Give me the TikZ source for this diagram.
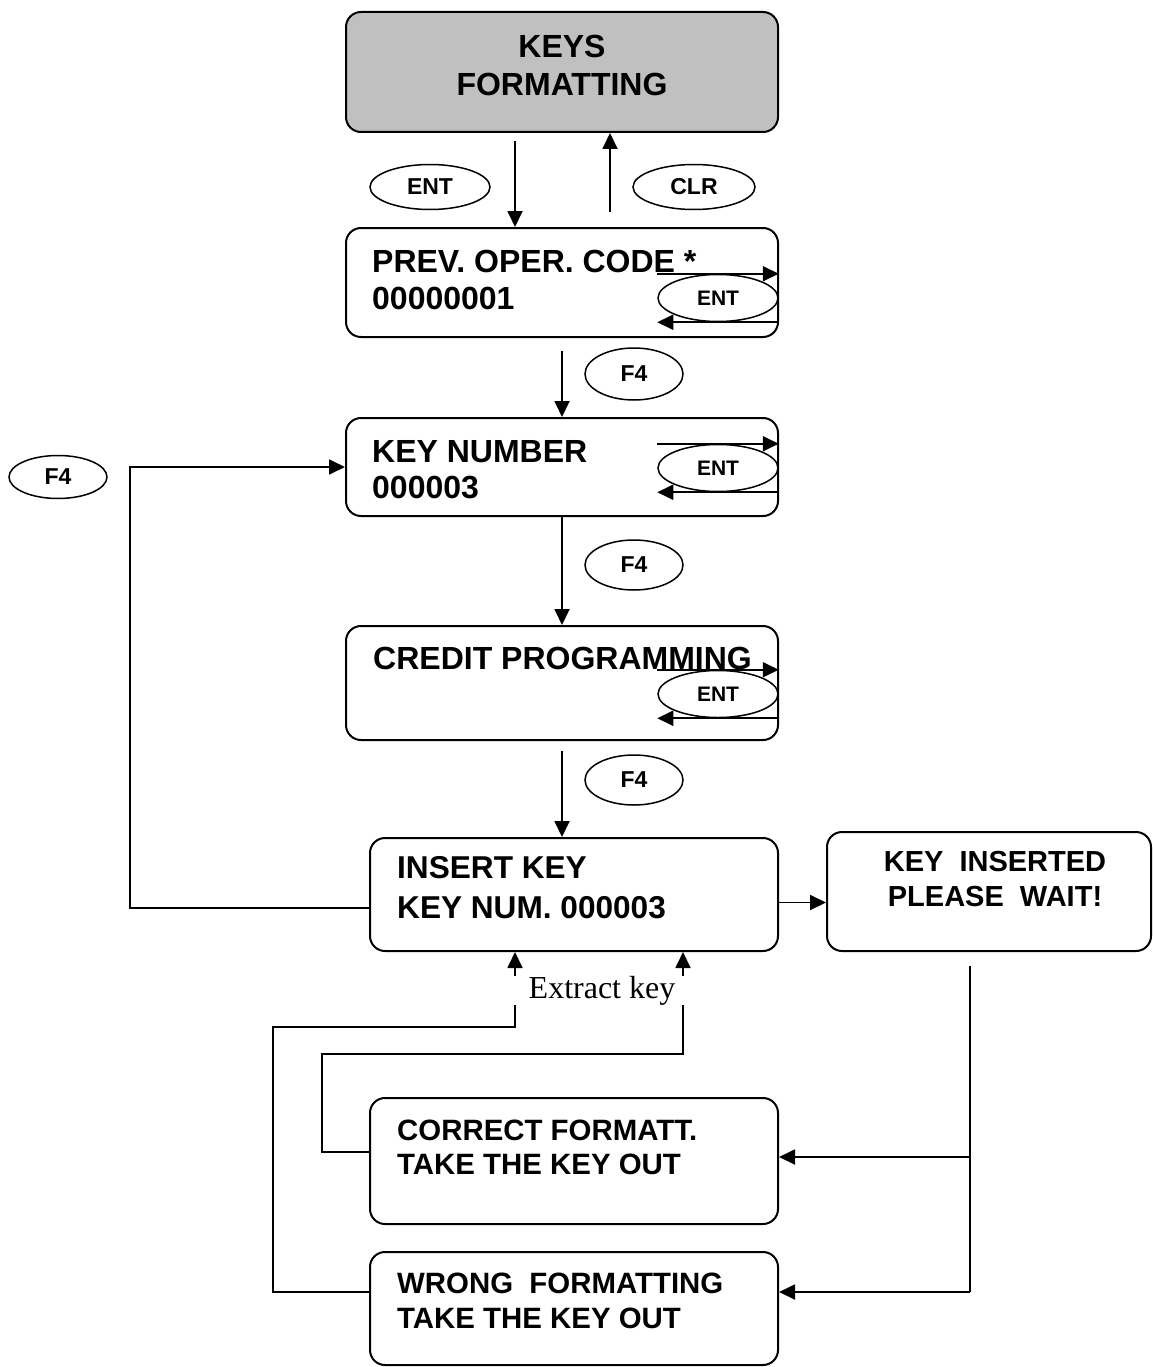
\documentclass[tikz,border=0pt]{standalone}
\usepackage{fontspec}
\setmainfont{Liberation Sans}
\newfontfamily\timesfont{Liberation Serif}
\usetikzlibrary{arrows.meta, shapes.geometric, calc}
\definecolor{boxgray}{RGB}{192,192,192}
\tikzset{
  screen/.style={draw=black, rounded corners=15pt, line width=2pt, inner sep=0pt},
  title/.style={screen, fill=boxgray},
  keycap/.style={ellipse, draw=black, line width=1.5pt, inner sep=0pt,
    font=\fontsize{23}{26}\selectfont\bfseries},
  smallkey/.style={keycap, minimum width=120pt, minimum height=47pt,
    font=\fontsize{21}{24}\selectfont\bfseries},
  msg/.style={anchor=north west, inner sep=0pt, align=left,
    font=\fontsize{32}{37}\selectfont\bfseries},
  flow/.style={-{Triangle[length=16pt,width=15pt]}, line width=1.8pt},
  plain/.style={line width=1.8pt},
  note/.style={anchor=base, fill=white, inner xsep=20pt, inner ysep=0pt,
    font=\fontsize{32}{36}\selectfont\timesfont}
}

\begin{document}
\begin{tikzpicture}[x=1pt, y=-1pt]
  \useasboundingbox (0,0) rectangle (1152,1367);

  % screens
  \node[title, minimum width=432pt, minimum height=120pt] (top) at (562,72) {};
  \node[screen, minimum width=432pt, minimum height=109pt] (prev) at (562,282.5) {};
  \node[screen, minimum width=432pt, minimum height=98pt] (keynum) at (562,467) {};
  \node[screen, minimum width=432pt, minimum height=114pt] (credit) at (562,683) {};
  \node[screen, minimum width=408pt, minimum height=113pt] (insert) at (574,894.5) {};
  \node[screen, minimum width=324pt, minimum height=119pt] (inserted) at (989,891.5) {};
  \node[screen, minimum width=408pt, minimum height=126pt] (correct) at (574,1161) {};
  \node[screen, minimum width=408pt, minimum height=113pt] (wrong) at (574,1308.5) {};

  % screen texts
  \node[msg, anchor=north, align=center, font=\fontsize{32}{38}\selectfont\bfseries] (topT) at (562,34.5) {KEYS\\FORMATTING};
  \node[msg] (prevT) at (372,249.5) {PREV. OPER. CODE *\\00000001};
  \node[msg, font=\fontsize{32}{36}\selectfont\bfseries] (keyT) at (372,440.5) {KEY NUMBER\\000003};
  \node[msg] (creditT) at (373,646.5) {CREDIT PROGRAMMING};
  \node[msg, font=\fontsize{31.6}{40}\selectfont\bfseries] (insertT) at (397,856.5) {INSERT KEY\\KEY NUM. 000003};
  \node[msg, anchor=north, align=center, font=\fontsize{29}{35}\selectfont\bfseries] (insertedT) at (995,851.5) {KEY\ \ INSERTED\\PLEASE\ \ WAIT!};
  \node[msg, font=\fontsize{29.4}{34}\selectfont\bfseries] (correctT) at (397,1120) {CORRECT FORMATT.\\TAKE THE KEY OUT};
  \node[msg, font=\fontsize{29.4}{35}\selectfont\bfseries] (wrongT) at (397,1273) {WRONG\ \ FORMATTING\\TAKE THE KEY OUT};

  % keys
  \node[keycap, minimum width=120pt, minimum height=45pt] (entA) at (430,187) {ENT};
  \node[keycap, minimum width=122pt, minimum height=45pt] (clrA) at (694,187) {CLR};
  \node[keycap, minimum width=98pt, minimum height=52pt] (f4a) at (634,374) {F4};
  \node[keycap, minimum width=98pt, minimum height=50pt] (f4b) at (634,565) {F4};
  \node[keycap, minimum width=98pt, minimum height=50pt] (f4c) at (634,780) {F4};
  \node[keycap, minimum width=98pt, minimum height=43pt] (f4L) at (58,477) {F4};
  \node[smallkey] (entP) at (718,298) {ENT};
  \node[smallkey] (entK) at (718,468) {ENT};
  \node[smallkey] (entC) at (718,694) {ENT};

  % ENT loops on the screens
  \foreach \e in {entP,entK,entC} {
    \draw[flow] (\e.north -| \e.west) -- (\e.north -| \e.east);
    \draw[flow] (\e.south -| \e.east) -- (\e.south -| \e.west);
  }

  % main chain
  \draw[flow, shorten <=8pt] ([xshift=-47pt]top.south) -- ([xshift=-47pt]prev.north);
  \draw[flow, shorten <=15pt] ([xshift=48pt]prev.north) -- ([xshift=48pt]top.south);
  \draw[flow, shorten <=13pt] (prev.south) -- (keynum.north);
  \draw[flow] (keynum.south) -- (credit.north);
  \draw[flow, shorten <=10pt] (credit.south) -- (credit.south |- insert.north);

  % back to key number
  \coordinate (backL) at (130,908);
  \draw[flow] ([yshift=-13.5pt]insert.west) -- (backL) |- (keynum.west);

  % key inserted
  \coordinate (insOut) at ([yshift=-8pt]insert.east);
  \draw[flow] (insOut) -- (insOut -| inserted.west);
  \coordinate (waitA) at ([xshift=-19pt,yshift=-14pt]inserted.south);
  \coordinate (waitB) at (970,1157);
  \coordinate (waitC) at (970,1292);
  \draw[plain] (waitA) -- (waitC);
  \draw[flow] (waitB) -- (waitB -| correct.east);
  \draw[flow] (waitC) -- (waitC -| wrong.east);

  % extract key loops
  \coordinate (outA) at (273,1027);
  \coordinate (outB) at (515,1027);
  \draw[flow] ([yshift=16.5pt]wrong.west) -| (outA) -- (outB) -- (outB |- insert.south);
  \coordinate (inA) at (322,1054);
  \coordinate (inB) at (683,1054);
  \draw[flow] ([yshift=9pt]correct.west) -| (inA) -- (inB) -- (inB |- insert.south);
  \node[note] (extract) at (602,998) {Extract key};
\end{tikzpicture}
\end{document}
